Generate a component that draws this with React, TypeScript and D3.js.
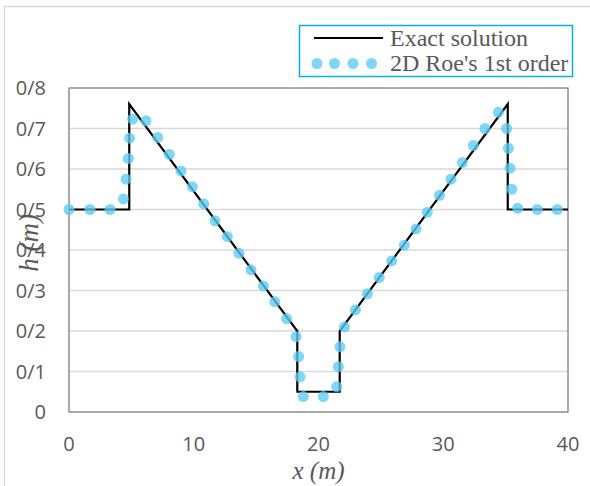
import React from "react";
import * as d3 from "d3";

const exactX = [0, 4.83, 4.83, 18.3, 18.3, 21.7, 21.7, 35.17, 35.17, 40];
const exactH = [0.5, 0.5, 0.76, 0.2, 0.05, 0.05, 0.2, 0.76, 0.5, 0.5];

const roeX = [
  0, 1.68, 3.29, 4.36, 4.57, 4.76, 4.86, 5.1, 6.17, 7.11, 8.04, 8.98, 9.89, 10.8,
  11.7, 12.69, 13.63, 14.59, 15.58, 16.5, 17.45, 18.2, 18.41, 18.52, 18.78, 20.39,
  21.46, 21.59, 21.72, 22.08, 22.96, 23.92, 24.87, 25.87, 26.88, 27.82, 28.72,
  29.7, 30.62, 31.53, 32.41, 33.35, 34.42, 35.08, 35.22, 35.35, 35.49, 35.97,
  37.54, 39.14,
];
const roeH = [
  0.5, 0.5, 0.5, 0.526, 0.575, 0.626, 0.676, 0.723, 0.719, 0.678, 0.636, 0.595,
  0.556, 0.514, 0.472, 0.433, 0.392, 0.351, 0.311, 0.272, 0.23, 0.186, 0.137,
  0.087, 0.038, 0.038, 0.0625, 0.112, 0.161, 0.21, 0.252, 0.292, 0.332, 0.373,
  0.412, 0.452, 0.493, 0.535, 0.575, 0.616, 0.658, 0.7, 0.74, 0.7, 0.651, 0.602,
  0.55, 0.503, 0.5, 0.5,
];

const xTicks = [0, 10, 20, 30, 40];
const yTicks = [0, 0.1, 0.2, 0.3, 0.4, 0.5, 0.6, 0.7, 0.8];
const yTickLabels = ["0", "0/1", "0/2", "0/3", "0/4", "0/5", "0/6", "0/7", "0/8"];
const seriesNames = ["Exact solution", "2D Roe's 1st order"];
const xTitle = "x (m)";
const yTitle = "h (m)";

const W = 590;
const H = 486;
const L = 69;
const R = 568;
const T = 88;
const B = 412;

export default function App() {
  const x = d3.scaleLinear().domain([0, 40]).range([L, R]);
  const y = d3.scaleLinear().domain([0, 0.8]).range([B, T]);
  const exactData = exactX.map((v, i) => [v, exactH[i]] as [number, number]);
  const line = d3
    .line<[number, number]>()
    .x((d) => x(d[0]))
    .y((d) => y(d[1]));
  const tickFont = "'Open Sans', sans-serif";
  const serif = "'Liberation Serif', 'Times New Roman', serif";
  const dotFill = "#5ccaf2";
  const dotOpacity = 0.78;
  const dotR = 5.5;
  return (
    <svg
      width={W}
      height={H}
      style={{ position: "absolute", left: 0, top: 0, background: "#fff" }}
    >
      <rect x={4.5} y={6.5} width={620} height={520} fill="#fff" stroke="#d9d9d9" strokeWidth={1.5} />
      {yTicks
        .filter((t) => t > 0 && t < 0.8)
        .map((t) => (
          <line key={t} x1={L} x2={R} y1={y(t)} y2={y(t)} stroke="#d9d9d9" strokeWidth={1.3} />
        ))}
      <rect x={L} y={T} width={R - L} height={B - T} fill="none" stroke="#595959" strokeWidth={1} />
      <line x1={L} x2={L} y1={T} y2={B} stroke="#a6a6a6" strokeWidth={1.5} />
      <line x1={L} x2={R} y1={B} y2={B} stroke="#a6a6a6" strokeWidth={1.5} />
      {yTicks.map((t, i) => (
        <text
          key={t}
          x={46}
          y={y(t) + 7}
          textAnchor="end"
          fontFamily={tickFont}
          fontSize={20}
          fill="#595959"
        >
          {yTickLabels[i]}
        </text>
      ))}
      {xTicks.map((t) => (
        <text
          key={t}
          x={x(t)}
          y={451}
          textAnchor="middle"
          fontFamily={tickFont}
          fontSize={20}
          fill="#595959"
        >
          {t}
        </text>
      ))}
      <path d={line(exactData) || ""} fill="none" stroke="#000" strokeWidth={2.2} />
      {roeX.map((v, i) => (
        <circle key={i} cx={x(v)} cy={y(roeH[i])} r={dotR} fill={dotFill} fillOpacity={dotOpacity} />
      ))}
      <text
        x={(L + R) / 2}
        y={479}
        textAnchor="middle"
        fontFamily={serif}
        fontStyle="italic"
        fontSize={25}
        fill="#595959"
      >
        {xTitle}
      </text>
      <text
        transform={`translate(38,243) rotate(-90)`}
        textAnchor="middle"
        fontFamily={serif}
        fontStyle="italic"
        fontSize={27}
        fill="#595959"
      >
        {yTitle}
      </text>
      <rect x={299.5} y={25.5} width={273} height={51} fill="#fff" stroke="#00b0f0" strokeWidth={1.5} />
      <line x1={314} x2={383} y1={38} y2={38} stroke="#000" strokeWidth={2.2} />
      <text x={390} y={46} fontFamily={serif} fontSize={24} fill="#595959">
        {seriesNames[0]}
      </text>
      {[317, 334.5, 353, 371.5].map((cx) => (
        <circle key={cx} cx={cx} cy={63.5} r={dotR} fill={dotFill} fillOpacity={dotOpacity} />
      ))}
      <text x={390} y={71} fontFamily={serif} fontSize={24} fill="#595959">
        {seriesNames[1]}
      </text>
    </svg>
  );
}
